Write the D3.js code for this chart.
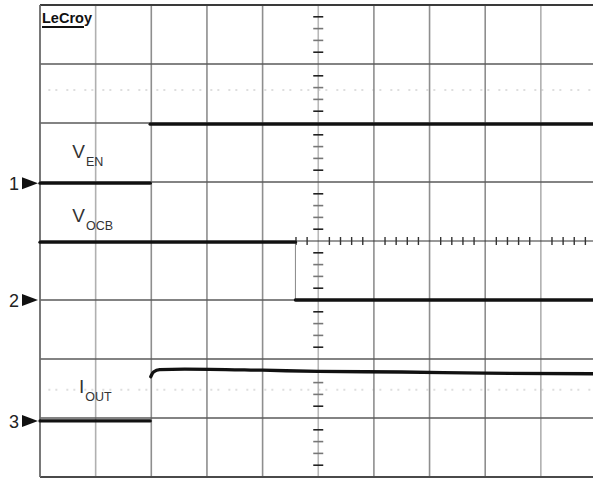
<!DOCTYPE html>
<html>
<head>
<meta charset="utf-8">
<script src="https://cdn.jsdelivr.net/npm/d3@7"></script>
<style>
  html, body { margin: 0; padding: 0; background: #fff; }
  svg { display: block; }
</style>
</head>
<body>
<svg id="scope" width="593" height="479"></svg>
<script>
// Screen: 10 horizontal divisions of time, 8 vertical divisions (centre = 0)
const xDivisions = [0, 10];
const yDivisions = [-4, 4];

// Channel traces, [time div, level div]; each is split where the fast edge
// is too quick to leave a visible vertical stroke
const ch1Before = [[0, 0.98], [1.98, 0.98]];
const ch1After = [[1.98, 1.98], [10, 1.98]];
const ch2Before = [[0, -0.02], [4.59, -0.02]];
const ch2After = [[4.59, -1.0], [10, -1.0]];
const ch3Before = [[0, -3.05], [1.98, -3.05]];
const ch3After = [[1.99, -2.3], [2.04, -2.22], [2.15, -2.18], [2.6, -2.17],
                  [4, -2.19], [5, -2.21], [6.5, -2.22], [8, -2.24], [10, -2.25]];

// Ground markers on the left edge
const markerNames = ["1", "2", "3"];
const markerLevels = [0.98, -1.0, -3.05];

// Trace labels: [main letter, subscript, time div, level div]
const traceLabels = [
  ["V", "EN", 0.58, 1.40],
  ["V", "OCB", 0.58, 0.32],
  ["I", "OUT", 0.70, -2.57]
];

// Faint background ghost traces (level div)
const ghostLevels = [2.56, -2.52];

const svg = d3.select("#scope");
const x = d3.scaleLinear().domain(xDivisions).range([40, 596.5]);
const y = d3.scaleLinear().domain(yDivisions).range([477, 5]);

// faint dotted ghosts
svg.selectAll("line.ghost").data(ghostLevels).join("line")
  .attr("class", "ghost")
  .attr("x1", x(0.15)).attr("x2", x(10))
  .attr("y1", d => y(d)).attr("y2", d => y(d))
  .attr("stroke", "#dedede").attr("stroke-width", 2)
  .attr("stroke-dasharray", "2,5,2,9");

// vertical grid lines
svg.selectAll("line.vgrid").data(d3.range(1, 10)).join("line")
  .attr("class", "vgrid")
  .attr("x1", d => x(d)).attr("x2", d => x(d))
  .attr("y1", y(4)).attr("y2", y(-4))
  .attr("stroke", d => d === 5 ? "#b8b8b8" : (d === 1 || d === 9 ? "#b0b0b0" : "#8e8e8e"))
  .attr("stroke-width", 1.6);

// horizontal grid lines
svg.selectAll("line.hgrid").data(d3.range(-3, 4)).join("line")
  .attr("class", "hgrid")
  .attr("x1", x(0)).attr("x2", 593)
  .attr("y1", d => y(d)).attr("y2", d => y(d))
  .attr("stroke", d => d === 0 ? "#333" : "#5a5a5a")
  .attr("stroke-width", d => d === 0 ? 1.2 : 1.6);

// border (top, bottom, left)
svg.append("line").attr("x1", x(0)).attr("x2", 593).attr("y1", y(4)).attr("y2", y(4))
  .attr("stroke", "#3a3a3a").attr("stroke-width", 2);
svg.append("line").attr("x1", x(0)).attr("x2", 593).attr("y1", y(-4)).attr("y2", y(-4))
  .attr("stroke", "#4a4a4a").attr("stroke-width", 2);
svg.append("line").attr("x1", x(0)).attr("x2", x(0)).attr("y1", y(4)).attr("y2", y(-4))
  .attr("stroke", "#6a6a6a").attr("stroke-width", 1.8);

// minor ticks along the centre vertical axis
const minorY = d3.range(-4, 4.01, 0.2).filter(v => Math.abs(v - Math.round(v)) > 0.01);
svg.selectAll("line.ytick").data(minorY).join("line")
  .attr("class", "ytick")
  .attr("x1", x(5) - 5).attr("x2", x(5) + 5)
  .attr("y1", d => y(d)).attr("y2", d => y(d))
  .attr("stroke", (d, i) => (i % 4 === 1 || i % 4 === 2) ? "#777" : "#222")
  .attr("stroke-width", 1.6);

// minor ticks along the centre horizontal axis (hidden under the CH2 trace on the left)
const minorX = d3.range(4.6, 10.01, 0.2).filter(v => Math.abs(v - Math.round(v)) > 0.01);
svg.selectAll("line.xtick").data(minorX).join("line")
  .attr("class", "xtick")
  .attr("x1", d => x(d)).attr("x2", d => x(d))
  .attr("y1", y(0) - 4).attr("y2", y(0) + 4)
  .attr("stroke", "#333").attr("stroke-width", 1.4);

// traces
const line = d3.line().x(d => x(d[0])).y(d => y(d[1])).curve(d3.curveMonotoneX);
// CH2 falling edge is slow enough to leave a thin stroke
svg.append("line")
  .attr("x1", x(ch2Before[1][0])).attr("x2", x(ch2After[0][0]))
  .attr("y1", y(ch2Before[1][1])).attr("y2", y(ch2After[0][1]))
  .attr("stroke", "#888").attr("stroke-width", 1);

const segments = [ch1Before, ch1After, ch2Before, ch2After, ch3Before, ch3After];
svg.selectAll("path.trace").data(segments).join("path")
  .attr("class", "trace")
  .attr("d", line)
  .attr("fill", "none").attr("stroke", "#111")
  .attr("stroke-width", 3.3)
  .attr("stroke-linecap", "round");

// ground markers
const mk = svg.selectAll("g.marker").data(markerNames).join("g")
  .attr("class", "marker")
  .attr("transform", (d, i) => `translate(0,${y(markerLevels[i])})`);
mk.append("text")
  .attr("x", 19).attr("y", 7)
  .attr("text-anchor", "end")
  .attr("font-family", "Liberation Sans, Arial, sans-serif")
  .attr("font-size", 18).attr("fill", "#222")
  .text(d => d);
mk.append("path")
  .attr("d", "M22,-6 L38,0 L22,6 Z")
  .attr("fill", "#111");

// trace labels with subscripts
const lb = svg.selectAll("text.tlabel").data(traceLabels).join("text")
  .attr("class", "tlabel")
  .attr("x", d => x(d[2])).attr("y", d => y(d[3]))
  .attr("font-family", "Liberation Sans, Arial, sans-serif")
  .attr("fill", "#333");
lb.append("tspan").attr("font-size", 19).text(d => d[0]);
lb.append("tspan").attr("font-size", 12.5).attr("dy", 8).attr("dx", 1).text(d => d[1]);

// maker logo
svg.append("text")
  .attr("x", 42).attr("y", 23)
  .attr("font-family", "Liberation Sans Narrow, Liberation Sans, Arial, sans-serif")
  .attr("font-weight", "bold").attr("font-size", 15)
  .attr("textLength", 50).attr("lengthAdjust", "spacingAndGlyphs")
  .attr("fill", "#111")
  .text("LeCroy");
svg.append("line").attr("x1", 42).attr("x2", 84).attr("y1", 27).attr("y2", 27)
  .attr("stroke", "#111").attr("stroke-width", 2);
</script>
</body>
</html>
